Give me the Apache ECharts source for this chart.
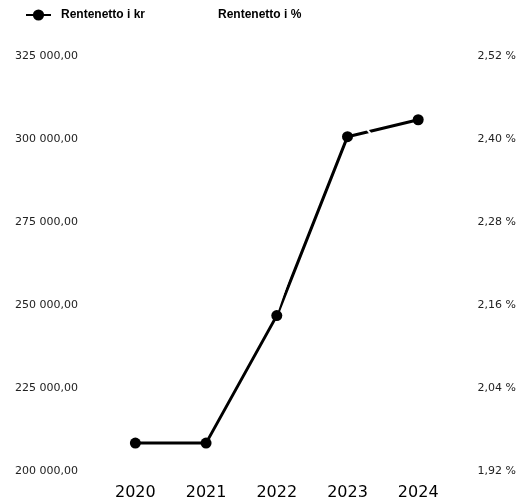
<!DOCTYPE html>
<html>
<head>
<meta charset="utf-8">
<script src="https://cdn.jsdelivr.net/npm/echarts@6/dist/echarts.min.js"></script>
<style>
  html, body { margin: 0; padding: 0; background: #fff; }
  #chart { width: 519px; height: 504px; }
</style>
</head>
<body>
<div id="chart"></div>
<script>
// Years on the category axis
const years = ['2020', '2021', '2022', '2023', '2024'];
// Net interest in kroner (left axis)
const renteKr = [208400, 208400, 246800, 300700, 305800];
// Net interest in percent (right axis)
const rentePct = [2.05, 2.10, 2.15, 2.45, 2.32];
// Series names shown in the legend
const seriesNames = ['Rentenetto i kr', 'Rentenetto i %'];

// "325 000,00" style numbers
function fmtKr(v) {
  const [intPart, dec] = (Math.round(v * 100) / 100).toFixed(2).split('.');
  return intPart.replace(/\B(?=(\d{3})+(?!\d))/g, ' ') + ',' + dec;
}
function fmtPct(v) {
  return v.toFixed(2).replace('.', ',') + ' %';
}

const chart = echarts.init(document.getElementById('chart'), null, { renderer: 'canvas' });
chart.setOption({
  animation: false,
  backgroundColor: '#fff',
  legend: {
    left: 20,
    top: 4,
    itemWidth: 25,
    itemHeight: 14,
    itemGap: 37,
    data: seriesNames,
    textStyle: {
      fontFamily: 'Liberation Sans, Arial, sans-serif',
      fontWeight: 'bold',
      fontSize: 12,
      color: '#000',
      padding: [0, 0, 0, 5]
    }
  },
  grid: { left: 100, right: 63, top: 56, bottom: 33 },
  xAxis: {
    type: 'category',
    data: years,
    boundaryGap: true,
    axisLine: { show: false },
    axisTick: { show: false },
    splitLine: { show: false },
    axisLabel: {
      color: '#000',
      fontSize: 16,
      fontFamily: 'DejaVu Sans, sans-serif',
      margin: 14
    }
  },
  yAxis: [
    {
      type: 'value',
      min: 200000,
      max: 325000,
      interval: 25000,
      axisLine: { show: false },
      axisTick: { show: false },
      splitLine: { show: false },
      axisLabel: {
        color: '#222',
        fontSize: 11,
        fontFamily: 'DejaVu Sans, sans-serif',
        margin: 22,
        formatter: fmtKr
      }
    },
    {
      type: 'value',
      position: 'right',
      min: 1.92,
      max: 2.52,
      interval: 0.12,
      axisLine: { show: false },
      axisTick: { show: false },
      splitLine: { show: false },
      axisLabel: {
        color: '#222',
        fontSize: 11,
        fontFamily: 'DejaVu Sans, sans-serif',
        margin: 24,
        formatter: fmtPct
      }
    }
  ],
  series: [
    {
      name: seriesNames[0],
      type: 'line',
      yAxisIndex: 0,
      data: renteKr,
      color: '#000',
      symbol: 'circle',
      symbolSize: 11,
      lineStyle: { width: 3, color: '#000' },
      itemStyle: { color: '#000' }
    },
    {
      name: seriesNames[1],
      type: 'line',
      yAxisIndex: 1,
      data: rentePct,
      color: '#fff',
      showSymbol: false,
      symbol: 'circle',
      lineStyle: { width: 2, color: '#fff' },
      itemStyle: { color: '#fff' }
    }
  ]
});
</script>
</body>
</html>
